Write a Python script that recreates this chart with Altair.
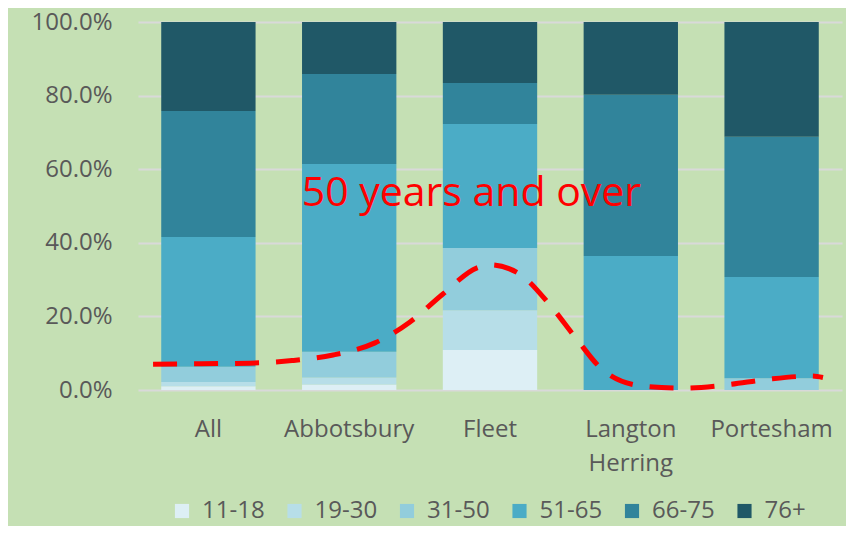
import altair as alt
import pandas as pd

locations = ["All", "Abbotsbury", "Fleet", "Langton Herring", "Portesham"]
ages = ["11-18", "19-30", "31-50", "51-65", "66-75", "76+"]

# percentage share of each age band per location
share_11_18 = [1.0, 1.5, 10.9, 0.0, 0.0]
share_19_30 = [1.2, 1.9, 10.8, 0.0, 0.0]
share_31_50 = [4.1, 7.0, 16.9, 0.0, 3.2]
share_51_65 = [35.3, 51.0, 33.7, 36.4, 27.5]
share_66_75 = [34.2, 24.5, 11.1, 43.8, 38.1]
share_76_plus = [24.2, 14.1, 16.6, 19.8, 31.2]
series = [share_11_18, share_19_30, share_31_50, share_51_65, share_66_75, share_76_plus]

colors = ["#DDEFF5", "#B7DEE8", "#92CDDC", "#4BACC6", "#31849B", "#205867"]

# hand-drawn red dashed curve (position in category units, percent)
curve_pos = [0.107, 0.334, 0.795, 1.094, 1.385, 1.683, 1.932, 2.166, 2.408, 2.5,
             2.699, 2.926, 3.104, 3.303, 3.580, 3.871, 4.183, 4.474, 4.787, 4.865]
curve_pct = [7.0, 7.1, 7.3, 8.0, 9.5, 12.8, 18.5, 26.1, 33.2, 34.0,
             31.8, 23.1, 14.4, 5.4, 1.1, 0.5, 1.4, 2.9, 3.8, 3.4]

note_text = ["50 years and over"]
note_pos = [2.368]
note_pct = [50.0]

rows = []
for ai, (age, vals) in enumerate(zip(ages, series)):
    for loc, v in zip(locations, vals):
        rows.append({"location": loc, "age": age, "order": ai, "share": v / 100})
df = pd.DataFrame(rows)

curve_df = pd.DataFrame({"pos": curve_pos, "share": [v / 100 for v in curve_pct]})
note_df = pd.DataFrame({"pos": note_pos, "share": [v / 100 for v in note_pct], "label": note_text})

FONT = "Open Sans"
GREY = "#595959"

bars = alt.Chart(df).mark_bar().encode(
    x=alt.X(
        "location:N", sort=locations, title=None,
        scale=alt.Scale(paddingInner=0.33, paddingOuter=0.165),
        axis=alt.Axis(
            labelAngle=0, ticks=False, domain=False, labelPadding=27,
            labelFontSize=24, labelFont=FONT, labelColor=GREY, labelLineHeight=34,
            labelExpr="datum.label == 'Langton Herring' ? ['Langton', 'Herring'] : datum.label",
        ),
    ),
    y=alt.Y(
        "share:Q", stack="zero", title=None,
        scale=alt.Scale(domain=[0, 1], nice=False),
        axis=alt.Axis(
            values=[0, 0.2, 0.4, 0.6, 0.8, 1.0], format=".1%", ticks=False, domain=False,
            labelPadding=26, labelFontSize=24, labelFont=FONT, labelColor=GREY,
            gridColor="#D9D9D9", gridWidth=2,
        ),
    ),
    color=alt.Color(
        "age:N", sort=ages,
        scale=alt.Scale(domain=ages, range=colors),
        legend=alt.Legend(
            title=None, orient="none", legendX=32, legendY=477, direction="horizontal",
            columns=6, symbolType="square", symbolSize=200, symbolStrokeWidth=0,
            labelFontSize=24, labelFont=FONT, labelColor=GREY, labelOffset=8,
            columnPadding=17.5, gridAlign="all", padding=0,
        ),
    ),
    order=alt.Order("order:Q", sort="ascending"),
)

line = alt.Chart(curve_df).mark_line(
    color="#FF0000", strokeWidth=5, strokeDash=[24, 17], interpolate="monotone", strokeCap="butt"
).encode(
    x=alt.X("pos:Q", scale=alt.Scale(domain=[0, 5], nice=False, zero=False), axis=None),
    y=alt.Y("share:Q", title=None),
)

note = alt.Chart(note_df).mark_text(
    font=FONT, fontSize=41, color="#FF0000", align="center", baseline="alphabetic"
).encode(
    x=alt.X("pos:Q", scale=alt.Scale(domain=[0, 5], nice=False, zero=False), axis=None),
    y=alt.Y("share:Q", title=None),
    text="label:N",
)

chart = alt.layer(bars, line, note).resolve_scale(x="independent").properties(
    width=704, height=368,
    padding={"left": 130, "top": 14, "right": 4, "bottom": 136},
    autosize=alt.AutoSizeParams(type="none"),
    background="#C5E0B4",
).configure_view(stroke=None)

chart.save("out.html", embed_options={"renderer": "svg", "actions": False})
